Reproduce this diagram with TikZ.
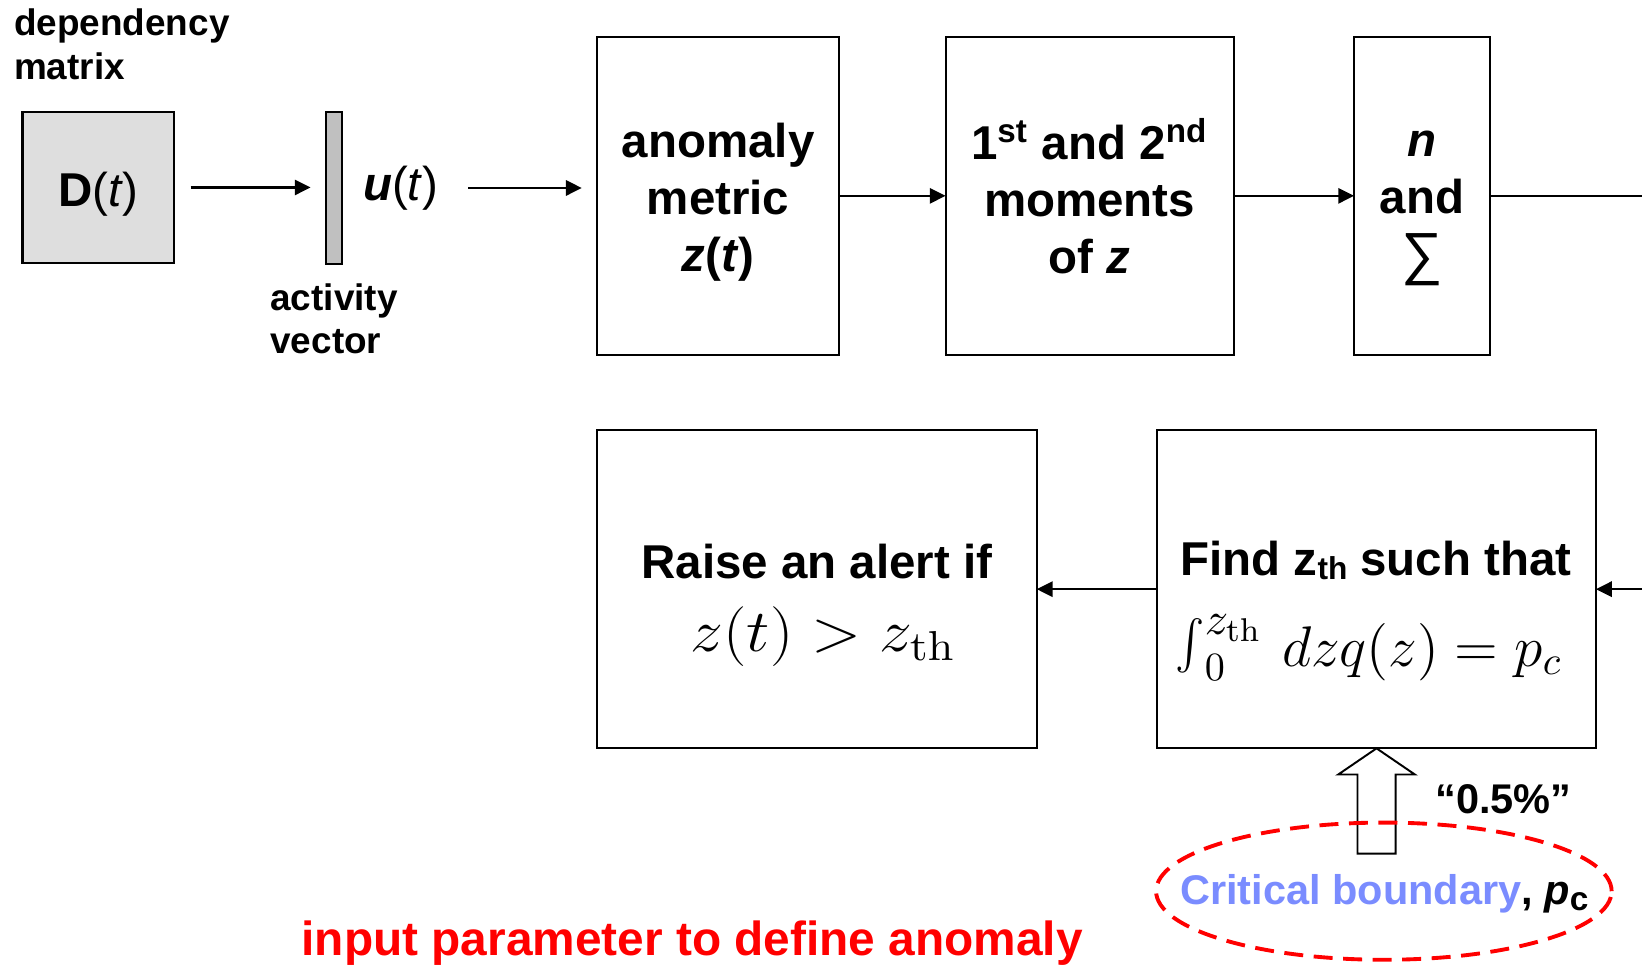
\RequirePackage{fix-cm}
\documentclass[tikz,border=0pt]{standalone}
\usepackage[no-math]{fontspec}
\setmainfont{Liberation Sans}
\usepackage{graphicx}
\usetikzlibrary{arrows.meta}

% one drawing unit
\newcommand\pxu{0.010472cm}

\definecolor{boundblue}{RGB}{122,140,255}
\definecolor{alertred}{RGB}{255,0,0}
\definecolor{matgray}{RGB}{222,222,222}
\definecolor{bargray}{RGB}{192,192,192}

\begin{document}
\begin{tikzpicture}[x=\pxu,y=-\pxu,
  box/.style={draw,line width=0.6pt,inner sep=0pt,outer sep=0pt},
  boxtxt/.style={align=center,inner sep=0pt,font=\fontsize{13.5}{16.2}\selectfont\bfseries},
  arr/.style={line width=0.75pt,-{Triangle[length=4.5pt,width=4.3pt]}},
  lbl/.style={font=\fontsize{10.5}{12.4}\selectfont\bfseries,align=left,inner sep=0pt},
  big/.style={font=\fontsize{13.5}{16.2}\selectfont\bfseries,inner sep=0pt},
  mathtxt/.style={inner sep=0pt},
]
\useasboundingbox (0,0) rectangle (1568,921);

% ---- input side ----
\node[lbl,anchor=north west] (dep) at (12.8,8) {dependency\\matrix};
\node[box,fill=matgray,minimum width=145*\pxu,minimum height=144*\pxu] (D) at (94,179) {};
\node[boxtxt] (Dtxt) at (94,185) {\textbf{D}\textmd{(\textit{t})}};
\node[draw,line width=0.6pt,fill=bargray,inner sep=0pt,outer sep=0pt,
  minimum width=15*\pxu,minimum height=145*\pxu] (bar) at (318.7,179.5) {};
\node[big,anchor=base west] (u) at (346,191) {\textit{u}\textmd{(\textit{t})}};
\node[lbl,anchor=north west] (act) at (257.6,270) {activity\\vector};

% ---- top row of stages ----
\node[box,minimum width=231.6*\pxu,minimum height=304*\pxu] (anom) at (685.8,187) {};
\node[boxtxt] (anomT) at (685.8,193) {anomaly\\metric\\\textit{z}(\textit{t})};
\node[box,minimum width=275*\pxu,minimum height=304*\pxu] (mom) at (1040.5,187) {};
\node[boxtxt] (momT) at (1040.5,187)
  {1\textsuperscript{st} and 2\textsuperscript{nd}\\moments\\of \textit{z}};
\node[box,minimum width=129.5*\pxu,minimum height=304*\pxu] (nsig) at (1357.8,187) {};
\node[boxtxt] (nsigT) at (1357.8,199)
  {\textit{n}\\and\\[1pt]\textmd{\fontsize{16.5}{16}\selectfont ∑}};

% ---- bottom row of stages ----
\node[box,minimum width=420*\pxu,minimum height=304*\pxu] (raise) at (780,562.6) {};
\node[box,minimum width=419*\pxu,minimum height=304*\pxu] (find) at (1314.5,562.6) {};
\node[big,anchor=base] (raiseT) at (780,552.3) {Raise an alert if};
\node[mathtxt,anchor=base] (raiseF) at (786,622)
  {\scalebox{1.1}[1]{\fontsize{17}{17}\selectfont$z(t)>z_{\mathrm{th}}$}};
\node[big,anchor=base] (findT) at (1314,549.5)
  {Find z\raisebox{-1.2pt}{\fontsize{9}{9}\selectfont th} such that};
\node[mathtxt,anchor=base] (findF) at (1307,636)
  {\fontsize{16.3}{16}\selectfont$\mathop{\scalebox{1.25}[1.4]{$\int$}}\nolimits_0^{\scalebox{1.15}{$\scriptstyle z_{\mathrm{th}}$}}\, dzq(z)=p_c$};

% ---- connectors ----
\draw[arr,shorten <=4.6pt,shorten >=4.35pt] (D.east) -- (D.east -| bar.west);
\draw[arr,shorten <=8.3pt,shorten >=4.3pt] (bar.center -| u.east) -- (bar.center -| anom.west);
\draw[arr] (anom.east) -- (mom.west);
\draw[arr] (mom.east) -- (nsig.west);
\coordinate (outR) at (1568,187);
\draw[line width=0.75pt] (nsig.east) -- (outR);
\coordinate (inR) at (1568,562.6);
\draw[arr] (inR) -- (find.east);
\draw[arr] (find.west) -- (raise.east);

% ---- parameter input ----
\draw[line width=0.55pt,fill=white] (find.south) -- ++(36.6,25) -- ++(-18.4,0)
  -- ++(0,75.5) -- ++(-36.4,0) -- ++(0,-75.5) -- ++(-18.4,0) -- cycle;
\node[font=\fontsize{11.8}{13}\selectfont\bfseries,anchor=base west,inner sep=0pt] (pct)
  at (1370,777) {“0.5\%”};
\node[anchor=base,inner sep=0pt,font=\fontsize{11.8}{14}\selectfont\bfseries] (crit)
  at (1322,864) {\textcolor{boundblue}{Critical boundary}, \textit{p}\raisebox{-1.5pt}{\fontsize{9.5}{9}\selectfont c}};
\coordinate (critc) at (1321.5,851);
\draw[alertred,line width=1.1pt,dash pattern=on 5.4pt off 3pt]
  (critc) ellipse [x radius=217.5*\pxu, y radius=65.5*\pxu];
\node[anchor=base,inner sep=0pt,text=alertred,font=\fontsize{13.6}{16}\selectfont\bfseries]
  (param) at (661,912) {input parameter to define anomaly};
\end{tikzpicture}
\end{document}
